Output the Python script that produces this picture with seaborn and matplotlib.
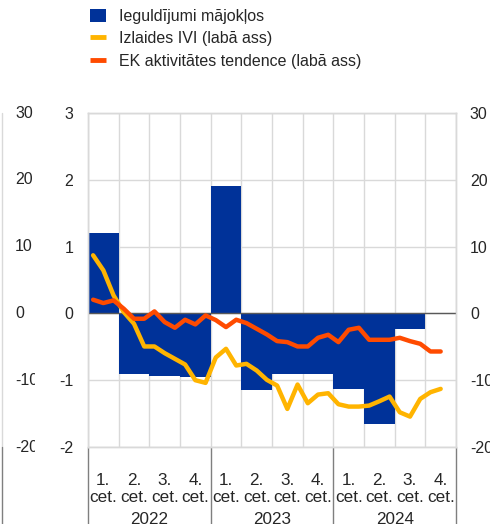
import numpy as np
import pandas as pd
import matplotlib.pyplot as plt
import seaborn as sns
from matplotlib.patches import Patch
from matplotlib.lines import Line2D
from matplotlib.transforms import Bbox, TransformedBbox, blended_transform_factory

BLUE = "#003299"
YELLOW = "#FFB400"
ORANGE = "#FF4B00"
GRID = "#d9d9d9"
SEP = "#7f7f7f"

quarter_labels = ["1.\ncet.", "2.\ncet.", "3.\ncet.", "4.\ncet."] * 3
years = ["2022", "2023", "2024"]

# quarterly, left axis
housing_inv = [1.2, -0.9, -0.93, -0.95, 1.9, -1.15, -0.9, -0.91, -1.13, -1.66, -0.23, 0.0]

# monthly Jan 2022 - Nov 2024, right axis
output_pmi = [8.7, 6.45, 2.7, 0.2, -1.55, -4.95, -4.95, -5.95, -6.8, -7.65, -10.0, -10.4,
              -6.6, -5.3, -7.8, -7.55, -8.55, -9.95, -10.8, -14.3, -10.65, -13.45, -12.15, -11.95,
              -13.6, -13.95, -13.95, -13.8, -13.15, -12.45, -14.8, -15.45, -12.8, -11.8, -11.3]
ec_trend = [2.05, 1.55, 1.95, 0.7, -0.8, -0.8, 0.3, -1.3, -2.15, -0.95, -1.65, -0.3,
            -1.0, -2.05, -0.95, -1.45, -2.3, -3.15, -4.15, -4.3, -4.95, -4.95, -3.65, -3.2,
            -4.3, -2.45, -2.15, -3.95, -3.95, -3.95, -3.65, -4.15, -4.55, -5.7, -5.7]

legend_labels = ["Ieguldījumi mājokļos", "Izlaides IVI (labā ass)", "EK aktivitātes tendence (labā ass)"]

sns.set_style("white")
plt.rcParams["font.family"] = ["Liberation Sans", "DejaVu Sans"]
plt.rcParams["font.size"] = 11.5
plt.rcParams["axes.unicode_minus"] = False

fig = plt.figure(figsize=(4.9, 5.24), dpi=100)
ax = fig.add_axes([88 / 490, 77 / 524, 368 / 490, 334 / 524])

bars = pd.DataFrame({"pos": np.arange(len(housing_inv)), "val": housing_inv})
sns.barplot(data=bars, x="pos", y="val", native_scale=True, width=1, color=BLUE,
            saturation=1, linewidth=0, edgecolor="none", ax=ax, zorder=2)
ax.axhline(0, color="#595959", lw=1, zorder=3)

ax2 = ax.twinx()
months = pd.DataFrame({
    "x": -0.5 + (np.arange(len(output_pmi)) + 0.5) / 3,
    "pmi": output_pmi,
    "ec": ec_trend,
})
sns.lineplot(data=months, x="x", y="pmi", color=YELLOW, lw=3.2, ax=ax2)
sns.lineplot(data=months, x="x", y="ec", color=ORANGE, lw=3.2, ax=ax2)

ax.set_xlim(-0.5, 11.5)
ax.set_ylim(-2, 3)
ax2.set_ylim(-20, 30)
ax.set_yticks(range(-2, 4))
ax2.set_yticks(range(-20, 31, 10))
ax.set_xlabel("")
ax.set_ylabel("")
ax2.set_xlabel("")
ax2.set_ylabel("")

ax.set_xticks(range(12), labels=quarter_labels, fontsize=12.3, linespacing=1.1)
ax.set_xticks(np.arange(-0.5, 12, 1), minor=True)
ax.tick_params(axis="x", which="major", length=0, pad=19)
ax.tick_params(axis="x", which="minor", length=44, color=SEP, width=1)
ax.tick_params(axis="y", length=0, pad=10.5)
ax2.tick_params(axis="y", length=0, pad=10)

ax.grid(axis="y", color=GRID, lw=1)
ax.grid(axis="x", which="minor", color=GRID, lw=1)
ax.set_axisbelow(True)
for a in (ax, ax2):
    for s in a.spines.values():
        s.set_color(GRID)
        s.set_linewidth(1)

sec = ax.secondary_xaxis("bottom")
sec.set_xticks([1.5, 5.5, 9.5], labels=years, fontsize=12.3)
sec.set_xticks([-0.5, 3.5, 7.5, 11.5], minor=True)
sec.tick_params(which="major", length=0, pad=47)
sec.tick_params(which="minor", length=60, color=SEP, width=1)
sec.spines["bottom"].set_visible(False)

# right-axis labels of the neighbouring panel, cut at its edge
trans = blended_transform_factory(fig.transFigure, ax2.transData)
clip = TransformedBbox(Bbox([[0, 0], [35 / 490, 1]]), fig.transFigure)
for v in range(-20, 31, 10):
    t = fig.text(15 / 490, v, str(v), transform=trans, ha="left", va="center")
    t.set_clip_box(clip)
    t.set_clip_on(True)
fig.add_artist(Line2D([2 / 490, 2 / 490], [77 / 524, 411 / 524], color=GRID, lw=1))
fig.add_artist(Line2D([2 / 490, 2 / 490], [0, 77 / 524], color=SEP, lw=1))

handles = [
    Patch(facecolor=BLUE, edgecolor="none"),
    Line2D([], [], color=YELLOW, lw=3.5, solid_capstyle="butt"),
    Line2D([], [], color=ORANGE, lw=3.5, solid_capstyle="butt"),
]
fig.legend(handles, legend_labels, loc="upper left", bbox_to_anchor=(90 / 490, 1 - 9 / 524),
           frameon=False, handlelength=1.0, handleheight=0.9, handletextpad=0.8,
           labelspacing=0.45, borderaxespad=0, borderpad=0)

fig.savefig("out.png", dpi=100)
